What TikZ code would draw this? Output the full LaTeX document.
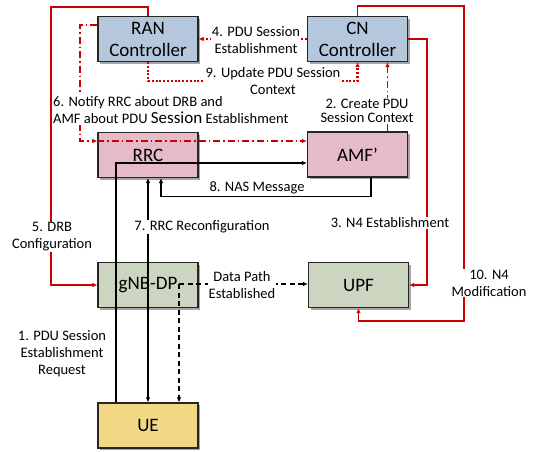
\documentclass[tikz,border=0pt]{standalone}
\usepackage{fontspec}
\setmainfont{Carlito}
\usetikzlibrary{arrows.meta,shadows}
\definecolor{ctrlblue}{HTML}{B4C7DC}
\definecolor{rrcpink}{HTML}{E5BBC8}
\definecolor{dpgreen}{HTML}{CBD5C0}
\definecolor{ueyellow}{HTML}{F2D784}
\definecolor{sigred}{HTML}{CC0000}

\tikzset{
  box/.style={draw=black!85, line width=1.1pt, minimum width=100pt, minimum height=45pt,
    inner sep=0pt, align=center, font=\fontsize{19}{22}\selectfont,
    drop shadow={shadow xshift=2pt,shadow yshift=-2pt,opacity=0.35,fill=black}},
  lbl/.style={font=\fontsize{14.5}{17}\selectfont, align=center, inner sep=1pt},
  blank/.style={fill=white},
  tip/.style={-{Latex[length=5pt,width=4.5pt]}},
  blk/.style={draw=black, line width=1.3pt},
  blkdash/.style={draw=black, line width=1.3pt, dash pattern=on 5pt off 3.5pt},
  sigsolid/.style={draw=sigred, line width=1.5pt},
  sigdot/.style={draw=sigred, line width=2.2pt, dash pattern=on 2pt off 1.8pt},
  sigdashdot/.style={draw=sigred, line width=1.5pt, dash pattern=on 7pt off 3pt on 1.5pt off 3pt},
}

\begin{document}
\begin{tikzpicture}[x=1pt,y=-1pt]
\useasboundingbox (0,0) rectangle (534,451);

% network functions
\node[box, fill=ctrlblue] (ran) at (148,39) {RAN\\Controller};
\node[box, fill=ctrlblue] (cn)  at (357.5,39) {CN\\Controller};
\node[box, fill=rrcpink]  (rrc) at (148,155) {RRC};
\node[box, fill=rrcpink]  (amf) at (357.5,154.5) {AMF’};
\node[box, fill=dpgreen]  (gnb) at (148,285) {gNB-DP};
\node[box, fill=dpgreen]  (upf) at (358.5,285) {UPF};
\node[box, fill=ueyellow] (ue)  at (148,425.5) {UE};

% helper points
\coordinate (n6) at ([yshift=14pt]rrc.west);
\coordinate (dp) at ([xshift=31pt,yshift=1pt]gnb.center);

% 1. PDU session establishment request (UE -> AMF')
\draw[blk,tip] ([xshift=-32pt]ue.north) |- ([yshift=-8.5pt]amf.west);
% 7. RRC reconfiguration
\draw[blk,{Latex[length=5pt,width=4.5pt]}-{Latex[length=5pt,width=4.5pt]}] (rrc.south) -- (ue.north);
% 8. NAS message
\draw[blk,tip] ([xshift=13.5pt]amf.south) -- ++(0,19) -| ([xshift=13pt]rrc.south);
% data path
\draw[blkdash,tip] (dp) -- (dp -| upf.west);
\draw[blkdash,tip] (dp) -- (dp |- ue.north);

% 2. create PDU session context
\draw[sigdashdot,tip] ([xshift=30pt]amf.north) -- ([xshift=30pt]cn.south);
% 3. N4 establishment
\draw[sigsolid,tip] (cn.east) -- (427,39) |- (upf.east);
% 4. PDU session establishment
\draw[sigdot,tip] (cn.west) -- (ran.east);
% 5. DRB configuration
\draw[sigsolid,tip] (ran.north) |- (51,7) |- (gnb.west);
% 6. notify RRC and AMF'
\draw[sigdashdot,tip] ([yshift=14pt]ran.west) -| (80,141) -- (n6);
\draw[sigdashdot,tip] (n6) -- (n6 -| amf.west);
% 9. update PDU session context
\draw[sigdot,tip] (ran.south) -- ++(0,19) -| (cn.south);
% 10. N4 modification
\draw[sigsolid,tip] (cn.north) |- (464,6) -- (464,321) -| (upf.south);

% labels
\node[lbl] (l1) at (62,354) {1. PDU Session\\Establishment\\Request};
\node[lbl,blank,font=\fontsize{14.5}{13.5}\selectfont] (l2) at (367,111) {2. Create PDU\\Session Context};
\node[lbl,blank] (l3) at (390,223) {3. N4 Establishment};
\node[lbl,blank] (l4) at (256,40) {4. PDU Session\\Establishment};
\node[lbl,blank] (l5) at (52,237) {5. DRB\\Configuration};
\node[lbl,blank,align=left,anchor=west] (l6) at (52,110)
  {6. Notify RRC about DRB and\\AMF about PDU {\fontsize{17}{17}\selectfont Session} Establishment};
\node[lbl,blank] (l7) at (202,227) {7. RRC Reconfiguration};
\node[lbl] (l8) at (257,188) {8. NAS Message};
\node[lbl,blank] (l9) at (273,81) {9. Update PDU Session\\Context};
\node[lbl,blank] (l10) at (489,283) {10. N4\\Modification};
\node[lbl,blank] (ldp) at (242,285.5) {Data Path\\Established};
\end{tikzpicture}
\end{document}
